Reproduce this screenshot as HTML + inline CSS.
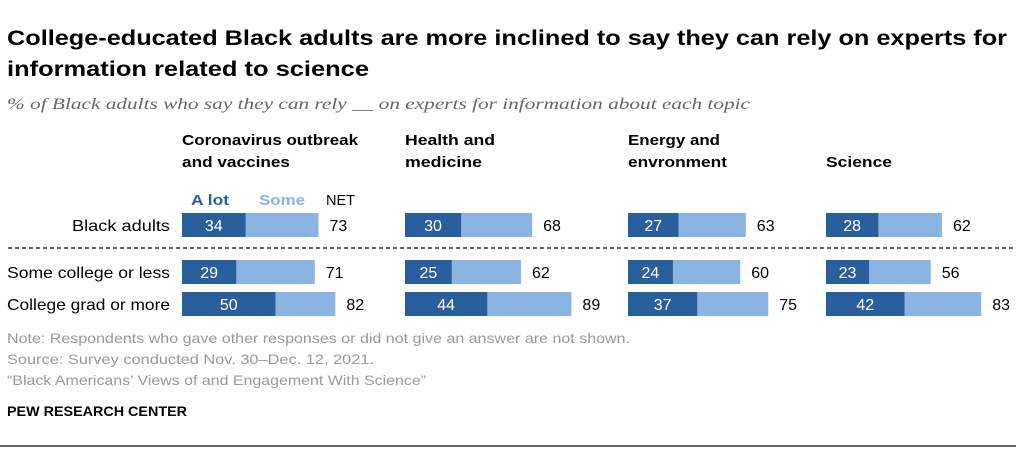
<!DOCTYPE html>
<html><head><meta charset="utf-8"><style>
body{margin:0;background:#fff;font-family:"Liberation Sans",sans-serif}
svg text{font-family:"Liberation Sans",sans-serif}
</style></head><body>
<svg id="c" width="1024" height="451" xmlns="http://www.w3.org/2000/svg">
<text x="7" y="45" font-size="21" font-weight="bold" fill="#000" textLength="1000" lengthAdjust="spacingAndGlyphs">College-educated Black adults are more inclined to say they can rely on experts for</text>
<text x="7" y="76" font-size="21" font-weight="bold" fill="#000" textLength="362" lengthAdjust="spacingAndGlyphs">information related to science</text>
<text x="7" y="109" font-size="16" font-style="italic" fill="#666" style="font-family:'Liberation Serif',serif" textLength="743" lengthAdjust="spacingAndGlyphs">% of Black adults who say they can rely __ on experts for information about each topic</text>
<text x="191" y="205" font-size="15" font-weight="bold" fill="#2a5f9e" textLength="38" lengthAdjust="spacingAndGlyphs">A lot</text>
<text x="259" y="205" font-size="15" font-weight="bold" fill="#8ab4e2" textLength="46" lengthAdjust="spacingAndGlyphs">Some</text>
<text x="326" y="205" font-size="15" fill="#000" textLength="29" lengthAdjust="spacingAndGlyphs">NET</text>
<line x1="8" y1="248" x2="1016" y2="248" stroke="#333" stroke-width="1.5" stroke-dasharray="4,3"/>
<text x="7" y="343" font-size="14" fill="#999" textLength="623" lengthAdjust="spacingAndGlyphs">Note: Respondents who gave other responses or did not give an answer are not shown.</text>
<text x="7" y="364" font-size="14" fill="#999" textLength="367" lengthAdjust="spacingAndGlyphs">Source: Survey conducted Nov. 30–Dec. 12, 2021.</text>
<text x="7" y="385" font-size="14" fill="#999" textLength="419" lengthAdjust="spacingAndGlyphs">“Black Americans’ Views of and Engagement With Science”</text>
<text x="7" y="416" font-size="14" font-weight="bold" fill="#000" textLength="180" lengthAdjust="spacingAndGlyphs">PEW RESEARCH CENTER</text>
<line x1="0" y1="446" x2="1016" y2="446" stroke="#333" stroke-width="1.5"/>
<g id="bars"></g>
</svg>
<script>
const topics=[["Coronavirus outbreak","and vaccines"],["Health and","medicine"],["Energy and","envronment"],["Science"]];
const topicW=[[176,108],[90,77],[92,99],[66]];
const rows=["Black adults","Some college or less","College grad or more"];
const rowW=[98,163,163];
const alot=[[34,29,50],[30,25,44],[27,24,37],[28,23,42]];
const net=[[73,71,82],[68,62,89],[63,60,75],[62,56,83]];
const groupX=[182,405,628,826];
const rowY=[213,260,292];
const scale=v=>v*1.87;
const NS="http://www.w3.org/2000/svg";
const g=document.getElementById('bars');
function mk(t,a){const e=document.createElementNS(NS,t);for(const k in a)e.setAttribute(k,a[k]);g.appendChild(e);return e;}
rows.forEach((r,i)=>{
  const t=mk('text',{x:170-rowW[i],y:rowY[i]+18,'font-size':16,fill:'#000',textLength:rowW[i],lengthAdjust:'spacingAndGlyphs'});t.textContent=r;
  
  
});
topics.forEach((tp,j)=>{
  tp.forEach((l,k)=>{
    const t=mk('text',{x:groupX[j],y:145+k*22-(tp.length===1?-22:0),'font-size':15,'font-weight':'bold',fill:'#000',textLength:topicW[j][k],lengthAdjust:'spacingAndGlyphs'});t.textContent=l;
    
    
  });
  rows.forEach((r,i)=>{
    const x=groupX[j],y=rowY[i],h=24,a=alot[j][i],n=net[j][i];
    const b2=mk('rect',{x:x,y:y,width:scale(n),height:h,fill:'#8ab4e2'});
    
    
    const b1=mk('rect',{x:x,y:y,width:scale(a),height:h,fill:'#2a5f9e'});
    
    
    const t1=mk('text',{x:x+scale(a)/2,y:y+18,'font-size':16,'text-anchor':'middle',fill:'#fff'});t1.textContent=a;
    
    
    const t2=mk('text',{x:x+scale(n)+11,y:y+18,'font-size':16,fill:'#000'});t2.textContent=n;
    
    
  });
});
</script>
</body></html>
